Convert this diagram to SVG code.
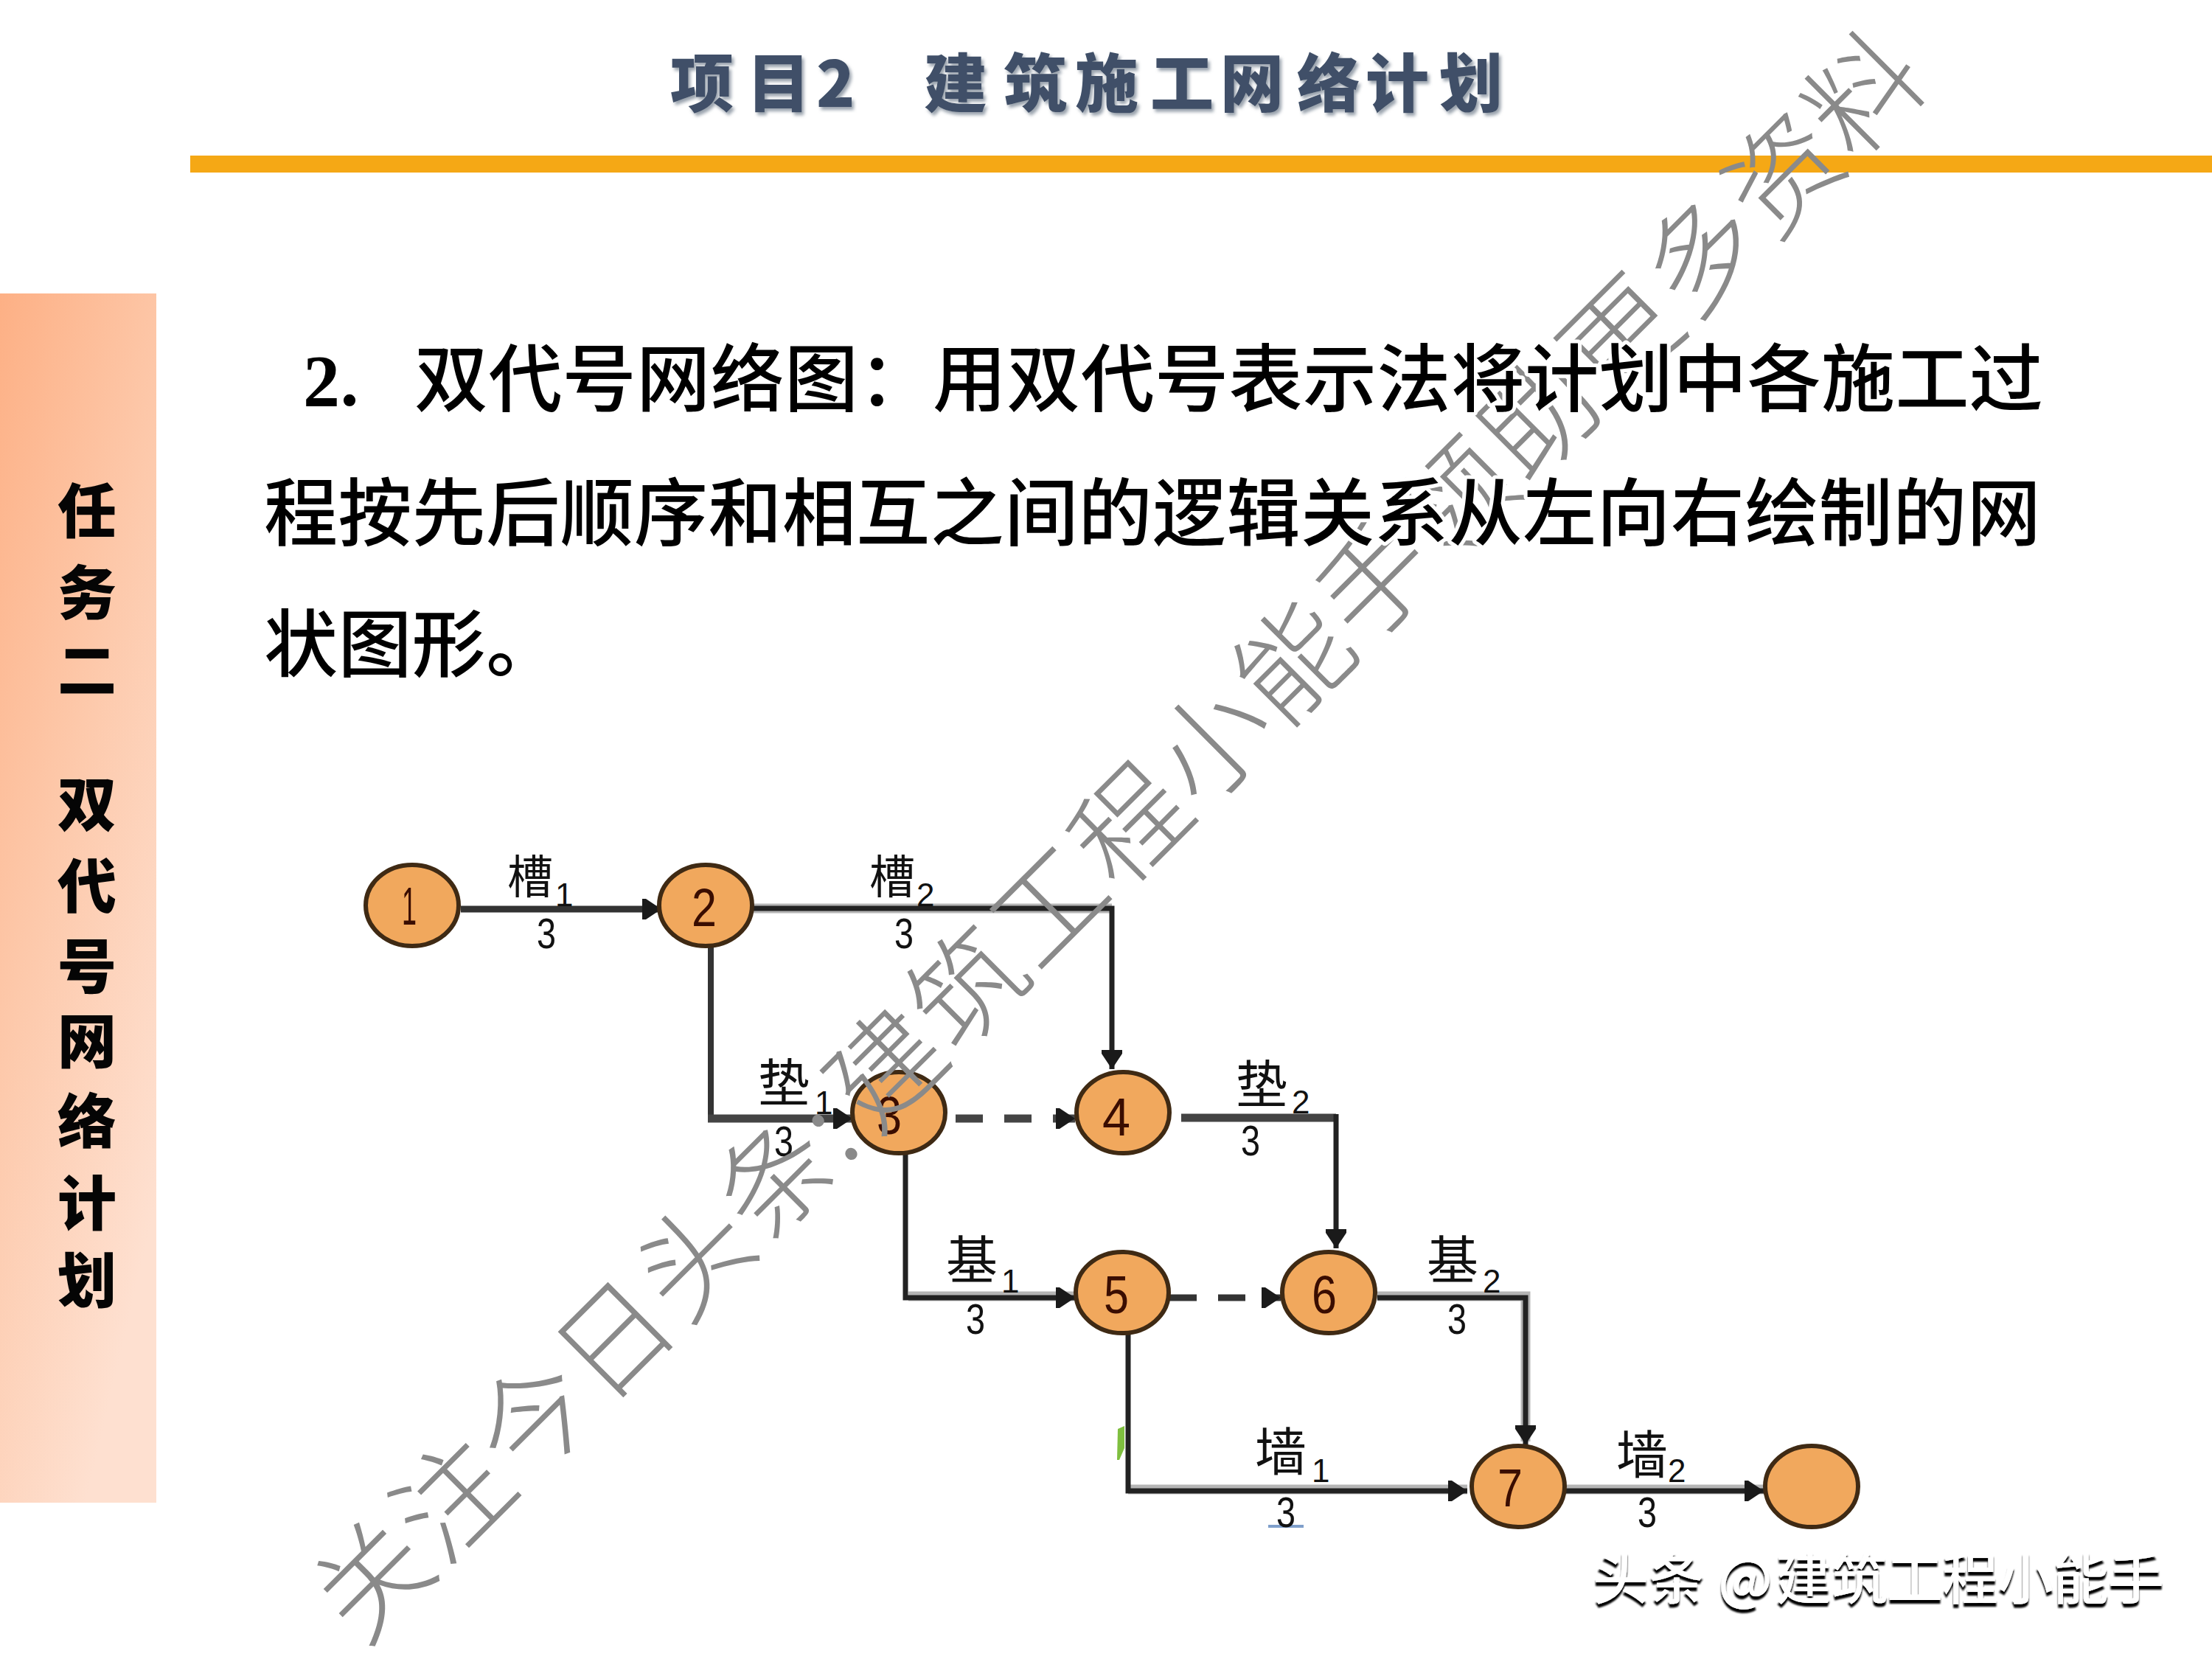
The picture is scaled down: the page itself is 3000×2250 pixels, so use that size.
<svg xmlns="http://www.w3.org/2000/svg" width="3000" height="2250" viewBox="0 0 3000 2250">
<style>
text{font-family:"Noto Sans CJK SC","Liberation Sans",sans-serif}
.body{font-size:100px;font-weight:500;fill:#000;stroke:#fff;stroke-width:10px;paint-order:stroke;stroke-linejoin:round;letter-spacing:.42px}
.title{font-size:86px;font-weight:900;fill:#3f5068}
.side{font-size:80px;font-weight:900;fill:#050505}
.wm{font-size:152px;font-weight:300;fill:#8a8a8a}
.logo{font-size:76px;font-weight:500;fill:#fff}
.cn{font-size:70px;fill:#111}
.cs{font-size:62px;fill:#111}
.sub{font-size:44px;fill:#111;font-family:"Liberation Sans",sans-serif}
.num{font-size:58px;fill:#111;font-family:"Liberation Sans",sans-serif;text-anchor:middle}
.nd{fill:#f1a85d;stroke:#3f2a14;stroke-width:6}
.nt{font-size:72px;fill:#3a0d00;font-family:"Liberation Sans",sans-serif;text-anchor:middle}
.c{fill:none;stroke:#222;stroke-linejoin:miter}
.thin{stroke-width:7}
.thick{stroke-width:11;stroke:#444}
.halo{fill:none;stroke:#b5b5b5;stroke-width:13}
.dash{stroke-dasharray:37 29}
</style>
<defs>
<linearGradient id="panel" x1="0" y1="0" x2="0.55" y2="1">
<stop offset="0" stop-color="#fdb085"/><stop offset="0.5" stop-color="#fdc9ab"/><stop offset="1" stop-color="#fee0d0"/>
</linearGradient>
<marker id="arr" viewBox="0 0 26 28" markerUnits="userSpaceOnUse" markerWidth="26" markerHeight="28" refX="26" refY="14" orient="auto">
<path d="M0 0H5L26 14L5 28H0Z" fill="#1a1a1a"/>
</marker>
<filter id="ts" x="-5%" y="-20%" width="110%" height="140%"><feDropShadow dx="3" dy="4" stdDeviation="2" flood-color="#9aa3ad"/></filter>
<filter id="em" x="-5%" y="-20%" width="110%" height="140%"><feDropShadow dx="0" dy="5" stdDeviation="0.8" flood-color="#000"/></filter>
</defs>
<rect width="3000" height="2250" fill="#fff"/>
<rect id="side-panel" x="0" y="398" width="212" height="1640" fill="url(#panel)"/>
<rect id="top-bar" x="258" y="211" width="2742" height="23" fill="#f5a815"/>
<text id="title" class="title" filter="url(#ts)" y="145" x="909 1013 1107 1200 1253 1361 1458 1560 1655 1759 1852 1952">项目2 建筑施工网络计划</text>
<text id="side-title" class="side" x="78 78 78 78 78 78 78 78 78 78 78" y="722 833 938 1030 1120 1231 1340 1441 1550 1661 1766">任务二 双代号网络计划</text>

<g id="connectors">
<path class="c" style="stroke:#333;stroke-width:9" d="M625 1233H897" marker-end="url(#arr)"/>
<path class="halo" d="M1021 1232H1508"/>
<path class="c thin" d="M1021 1232H1508V1450" marker-end="url(#arr)"/>
<path class="c" style="stroke:#333;stroke-width:8" d="M964 1283V1517"/>
<path class="c thick" d="M960 1517H1156" marker-end="url(#arr)"/>
<path class="c thick dash" d="M1296 1517H1458" marker-end="url(#arr)"/>
<path class="c thick" d="M1602 1516H1812"/>
<path class="c thin" d="M1812 1511V1693" marker-end="url(#arr)"/>
<path class="halo" d="M1232 1758H1460"/>
<path class="c thin" d="M1228 1565V1760H1458" marker-end="url(#arr)"/>
<path class="c dash" style="stroke:#333;stroke-width:9" d="M1586 1760H1737" marker-end="url(#arr)"/>
<path class="halo" d="M1868 1758H2069V1955"/>
<path class="c thin" d="M1868 1760H2069V1959" marker-end="url(#arr)"/>
<path class="halo" d="M1530 2020H1990M2124 2020H2392"/>
<path class="c thin" d="M1530 1805V2022H1990" marker-end="url(#arr)"/>
<path class="c thin" d="M2124 2022H2392" marker-end="url(#arr)"/>
<path id="mark" d="M1516 1938L1525 1934V1964L1518 1980L1515 1980Z" fill="#7fbf3f"/>
<path id="underline" d="M1720 2070H1768" stroke="#7f9fcb" stroke-width="4" fill="none"/>
</g>

<g id="nodes">
<g id="n1"><ellipse class="nd" cx="559" cy="1228" rx="63" ry="55"/><text class="nt" x="555" y="1254" textLength="20" lengthAdjust="spacingAndGlyphs">1</text></g>
<g id="n2"><ellipse class="nd" cx="957" cy="1228" rx="63" ry="55"/><text class="nt" x="955" y="1256" textLength="34" lengthAdjust="spacingAndGlyphs">2</text></g>
<g id="n3"><ellipse class="nd" cx="1219" cy="1509" rx="63" ry="55"/><text class="nt" x="1206" y="1538" textLength="34" lengthAdjust="spacingAndGlyphs">3</text></g>
<g id="n4"><ellipse class="nd" cx="1523" cy="1509" rx="63" ry="55"/><text class="nt" x="1514" y="1540" textLength="38" lengthAdjust="spacingAndGlyphs">4</text></g>
<g id="n5"><ellipse class="nd" cx="1522" cy="1753" rx="63" ry="55"/><text class="nt" x="1514" y="1781" textLength="34" lengthAdjust="spacingAndGlyphs">5</text></g>
<g id="n6"><ellipse class="nd" cx="1802" cy="1753" rx="63" ry="55"/><text class="nt" x="1796" y="1781" textLength="34" lengthAdjust="spacingAndGlyphs">6</text></g>
<g id="n7"><ellipse class="nd" cx="2059" cy="2016" rx="63" ry="55"/><text class="nt" x="2048" y="2043" textLength="34" lengthAdjust="spacingAndGlyphs">7</text></g>
<g id="n8"><ellipse class="nd" cx="2457" cy="2016" rx="63" ry="55"/></g>
</g>

<g id="edge-labels">
<text class="cs" x="688" y="1212">槽</text><text class="sub" x="753" y="1229">1</text><text class="num" x="741" y="1286" textLength="26" lengthAdjust="spacingAndGlyphs">3</text>
<text class="cs" x="1179" y="1212">槽</text><text class="sub" x="1243" y="1229">2</text><text class="num" x="1226" y="1286" textLength="26" lengthAdjust="spacingAndGlyphs">3</text>
<text class="cn" x="1028" y="1495">垫</text><text class="sub" x="1105" y="1511">1</text><text class="num" x="1063" y="1568" textLength="26" lengthAdjust="spacingAndGlyphs">3</text>
<text class="cn" x="1676" y="1497">垫</text><text class="sub" x="1752" y="1510">2</text><text class="num" x="1696" y="1567" textLength="26" lengthAdjust="spacingAndGlyphs">3</text>
<text class="cn" x="1283" y="1735">基</text><text class="sub" x="1358" y="1753">1</text><text class="num" x="1323" y="1809" textLength="26" lengthAdjust="spacingAndGlyphs">3</text>
<text class="cn" x="1935" y="1735">基</text><text class="sub" x="2011" y="1753">2</text><text class="num" x="1976" y="1809" textLength="26" lengthAdjust="spacingAndGlyphs">3</text>
<text class="cn" x="1702" y="1995">墙</text><text class="sub" x="1779" y="2010">1</text><text class="num" x="1744" y="2071" textLength="26" lengthAdjust="spacingAndGlyphs">3</text>
<text class="cn" x="2192" y="1999">墙</text><text class="sub" x="2262" y="2010">2</text><text class="num" x="2234" y="2071" textLength="26" lengthAdjust="spacingAndGlyphs">3</text>
</g>

<text id="watermark" class="wm" transform="translate(508 2143) rotate(-44.9)" y="53" x="-77 77 231 385 539 693 847 905 1061 1217 1373 1530 1686 1842 1998 2155 2311 2467 2623 2778">关注今日头条:建筑工程小能手领助更多资料</text>

<g id="body-text">
<text class="body" y="550"><tspan x="411" font-family="Liberation Serif" font-weight="700">2.</tspan><tspan x="562">双代号网络图：用双代号表示法将计划中各施工过</tspan></text>
<text class="body" x="358" y="732">程按先后顺序和相互之间的逻辑关系从左向右绘制的网</text>
<text class="body" x="358" y="910">状图形。</text>
</g>

<text id="logo" class="logo" filter="url(#em)" y="2169" x="2160 2236 2310 2330 2408 2484 2559 2634 2709 2784 2859">头条 @建筑工程小能手</text>
</svg>
